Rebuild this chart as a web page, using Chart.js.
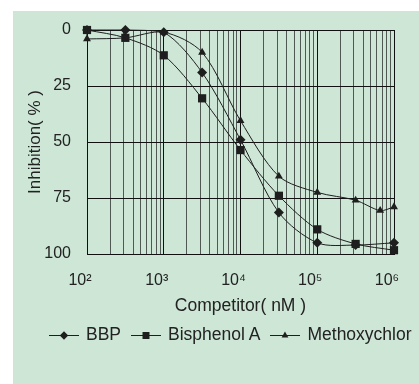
<!DOCTYPE html>
<html>
<head>
<meta charset="utf-8">
<script src="https://cdn.jsdelivr.net/npm/chart.js@4.4.0/dist/chart.umd.min.js"></script>
<style>
  html, body { margin: 0; padding: 0; background: #fff; overflow: hidden; }
  #panel { position: absolute; left: 13px; top: 11px; width: 406px; height: 373px; background: #cde6d6; }
  #chart-box { position: absolute; left: 0; top: 0; width: 406px; height: 373px; }
  #legend { position: absolute; left: 36px; top: 313px; display: flex; align-items: center;
            font: 17.5px "Liberation Sans", Arial, sans-serif; color: #222; white-space: nowrap; }
  .item { display: flex; align-items: center; margin-right: 10px; }
  .item canvas { margin-right: 7px; }
</style>
</head>
<body>
<div id="panel">
  <div id="chart-box"><canvas id="inhibition-chart" width="406" height="373"></canvas></div>
  <div id="legend"></div>
</div>
<script>
// values (x in nM, y in % inhibition)
const concentrations = [100, 316, 1000, 3162, 10000, 31623, 100000, 316228, 1000000];
const bbpInhibition = [0, 0, 1, 19, 49, 81.5, 95, 96, 95];
const bisphenolInhibition = [0, 3.5, 11.3, 30.5, 53.6, 74, 89, 95.5, 98.3];
const methoxyConcentrations = [100, 316, 1000, 3162, 10000, 31623, 100000, 316228, 660000, 1000000];
const methoxyInhibition = [4, 3.5, 1, 10, 40.5, 65.3, 72.5, 76, 80.6, 79];

const xTickLabels = { 100: "10²", 1000: "10³", 10000: "10⁴", 100000: "10⁵", 1000000: "10⁶" };
const yTickValues = [0, 25, 50, 75, 100];

const FONT = "'Liberation Sans', Arial, sans-serif";
const INK = "#222";

const toPoints = (xs, ys) => xs.map((x, i) => ({ x: x, y: ys[i] }));

// grid lines at 1..9 x 10^n like the log paper in the figure
const xGridValues = [];
for (let e = 2; e < 6; e++) {
    for (let m = 1; m < 10; m++) xGridValues.push(m * Math.pow(10, e));
}
xGridValues.push(1000000);

const isDecade = (v) => Math.abs(Math.log10(v) - Math.round(Math.log10(v))) < 1e-9;

const seriesStyle = (label, data, pointStyle, radius) => ({
    label: label,
    data: data,
    borderColor: "#1e1e1e",
    backgroundColor: "#1e1e1e",
    borderWidth: 1,
    pointStyle: pointStyle,
    pointRadius: radius,
    pointBorderWidth: 0,
    pointHoverRadius: radius,
    tension: 0.3,
    clip: false,
});

const ctx = document.getElementById("inhibition-chart").getContext("2d");
const chart = new Chart(ctx, {
    type: "line",
    data: {
        datasets: [
            seriesStyle("BBP", toPoints(concentrations, bbpInhibition), "rectRot", 5),
            seriesStyle("Bisphenol A", toPoints(concentrations, bisphenolInhibition), "rect", 5.8),
            seriesStyle("Methoxychlor", toPoints(methoxyConcentrations, methoxyInhibition), "triangle", 4.6),
        ],
    },
    options: {
        responsive: false,
        animation: false,
        events: [],
        layout: { padding: { top: 19, left: 0, right: 25, bottom: 63 } },
        plugins: {
            legend: { display: false },
            tooltip: { enabled: false },
        },
        scales: {
            x: {
                type: "logarithmic",
                min: 100,
                max: 1000000,
                afterBuildTicks: (scale) => {
                    scale.ticks = xGridValues.map((v) => ({ value: v }));
                },
                afterFit: (scale) => {
                    scale.height = 67;
                    scale.paddingLeft = 0;
                    scale.paddingRight = 0;
                },
                grid: {
                    drawTicks: false,
                    color: (c) => (c.tick && isDecade(c.tick.value) ? "#111" : "rgba(20,20,20,0.68)"),
                    lineWidth: 1,
                },
                border: { color: "#111", width: 1 },
                ticks: {
                    autoSkip: false,
                    maxRotation: 0,
                    padding: 17,
                    labelOffset: -7,
                    color: INK,
                    font: { family: FONT, size: 16 },
                    callback: (value) => xTickLabels[value] || "",
                },
                title: {
                    display: true,
                    text: "Competitor( nM )",
                    color: INK,
                    font: { family: FONT, size: 17.5, lineHeight: 1.2 },
                    padding: { top: 4, bottom: 4 },
                },
            },
            y: {
                reverse: true,
                min: 0,
                max: 100,
                afterBuildTicks: (scale) => {
                    scale.ticks = yTickValues.map((v) => ({ value: v }));
                },
                afterFit: (scale) => {
                    scale.width = 74;
                    scale.paddingTop = 0;
                    scale.paddingBottom = 0;
                },
                grid: { drawTicks: false, color: "#111", lineWidth: 1 },
                border: { color: "#111", width: 1 },
                ticks: {
                    padding: 16,
                    color: INK,
                    font: { family: FONT, size: 16 },
                },
                title: {
                    display: true,
                    text: "Inhibition( % )",
                    color: INK,
                    font: { family: FONT, size: 17, lineHeight: 1.2 },
                    padding: { top: 12, bottom: 0 },
                },
            },
        },
    },
});

// legend: short line with the series marker, then the name
const legendBox = document.getElementById("legend");
chart.data.datasets.forEach((ds) => {
    const item = document.createElement("div");
    item.className = "item";
    const swatch = document.createElement("canvas");
    swatch.width = 30;
    swatch.height = 14;
    const sctx = swatch.getContext("2d");
    sctx.strokeStyle = ds.borderColor;
    sctx.fillStyle = ds.backgroundColor;
    sctx.lineWidth = 1;
    sctx.beginPath();
    sctx.moveTo(0, 7.5);
    sctx.lineTo(30, 7.5);
    sctx.stroke();
    Chart.helpers.drawPoint(sctx, {
        pointStyle: ds.pointStyle,
        rotation: 0,
        radius: ds.pointRadius * 0.85,
        borderWidth: 0,
    }, 15, 7.5);
    const label = document.createElement("span");
    label.textContent = ds.label;
    item.appendChild(swatch);
    item.appendChild(label);
    legendBox.appendChild(item);
});
</script>
</body>
</html>
